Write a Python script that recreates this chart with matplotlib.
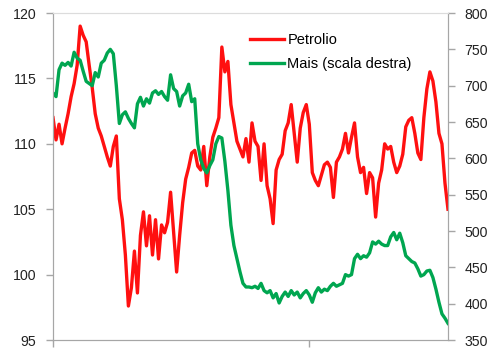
import numpy as np
import matplotlib.pyplot as plt

plt.rcParams['font.family'] = ['Liberation Sans', 'DejaVu Sans']

# weekly series, oil (left axis) and corn (right axis)
petrolio = [112.0, 110.3, 111.5, 110.0, 111.2, 112.3, 113.6, 114.6, 116.0, 119.0,
            118.3, 117.8, 116.0, 114.3, 112.3, 111.2, 110.6, 109.8, 109.0, 108.3,
            109.8, 110.6, 105.8, 104.2, 101.5, 97.6, 99.0, 101.8, 98.6, 103.0,
            104.8, 102.2, 104.5, 101.5, 104.2, 101.2, 103.8, 103.2, 104.0, 106.3,
            103.2, 100.2, 103.0, 105.5, 107.3, 108.2, 109.3, 109.5, 108.3, 108.0,
            109.8, 106.8, 109.0, 110.5, 111.2, 112.0, 117.4, 115.5, 116.3, 113.0,
            111.6, 110.2, 109.6, 109.0, 110.4, 108.6, 111.6, 110.2, 109.8, 107.2,
            110.0, 106.8, 105.8, 103.9, 108.0, 108.8, 109.2, 111.0, 111.6, 113.0,
            110.8, 108.6, 111.2, 112.4, 113.0, 111.5, 107.8, 107.2, 106.8, 107.6,
            108.4, 108.6, 108.2, 105.9, 108.6, 109.0, 109.6, 110.8, 109.3, 110.5,
            111.6, 109.0, 107.8, 108.2, 106.2, 107.8, 107.4, 104.4, 107.0, 108.0,
            110.0, 109.6, 109.8, 108.6, 107.8, 108.3, 109.2, 111.3, 111.8, 112.0,
            110.8, 109.3, 108.8, 112.0, 114.2, 115.5, 114.8, 113.2, 110.8, 110.0,
            107.0, 105.0]

mais = [690, 685, 722, 731, 728, 732, 727, 746, 738, 735,
        720, 706, 703, 700, 718, 712, 731, 735, 745, 750,
        744, 700, 648, 660, 664, 655, 648, 642, 675, 684,
        672, 682, 676, 690, 693, 688, 692, 685, 680, 715,
        696, 692, 672, 686, 690, 702, 678, 682, 620, 598,
        586, 580, 590, 598, 620, 630, 628, 596, 556, 508,
        480, 462, 444, 428, 423, 423, 422, 424, 421, 428,
        418, 415, 418, 408, 414, 401, 410, 416, 410, 418,
        412, 416, 408, 414, 418, 412, 402, 415, 422, 416,
        420, 418, 424, 428, 424, 426, 428, 440, 438, 440,
        462, 468, 462, 466, 464, 470, 485, 482, 486, 482,
        480, 480, 492, 498, 488, 497, 484, 466, 462, 458,
        456, 448, 438, 440, 445, 446, 436, 420, 402, 386,
        380, 373]

left_ticks = [95, 100, 105, 110, 115, 120]
right_ticks = [350, 400, 450, 500, 550, 600, 650, 700, 750, 800]
x_ticks = [0, 85]

x = np.arange(len(petrolio))
grey = '#a6a6a6'

fig = plt.figure(figsize=(5.02, 3.52), dpi=100)
ax1 = fig.add_axes([0.1056, 0.034, 0.7868, 0.929])
ax2 = ax1.twinx()

l1, = ax1.plot(x, petrolio, color='#ff1010', lw=2.4, label='Petrolio')
l2, = ax2.plot(x, mais, color='#00a650', lw=2.4, label='Mais (scala destra)')

ax1.set_xlim(0, len(x) - 1)
ax1.set_ylim(95, 120)
ax2.set_ylim(350, 800)
ax1.set_yticks(left_ticks)
ax2.set_yticks(right_ticks)
ax1.set_xticks(x_ticks)
ax1.set_xticklabels([])

for ax in (ax1, ax2):
    for side in ('left', 'right', 'bottom'):
        ax.spines[side].set_color(grey)
    ax.spines['top'].set_color('#dcdcdc')
    ax.tick_params(colors=grey, length=5, width=1, labelcolor='#222222',
                   labelsize=10.2)
ax1.tick_params(axis='y', pad=7)
ax2.tick_params(axis='y', pad=7)

fig.legend(handles=[l1, l2], loc='upper left', bbox_to_anchor=(0.472, 0.944),
           frameon=False, fontsize=10.5, handlelength=2.3, handletextpad=0.25,
           labelspacing=0.72)

fig.savefig('out.png', dpi=100)
